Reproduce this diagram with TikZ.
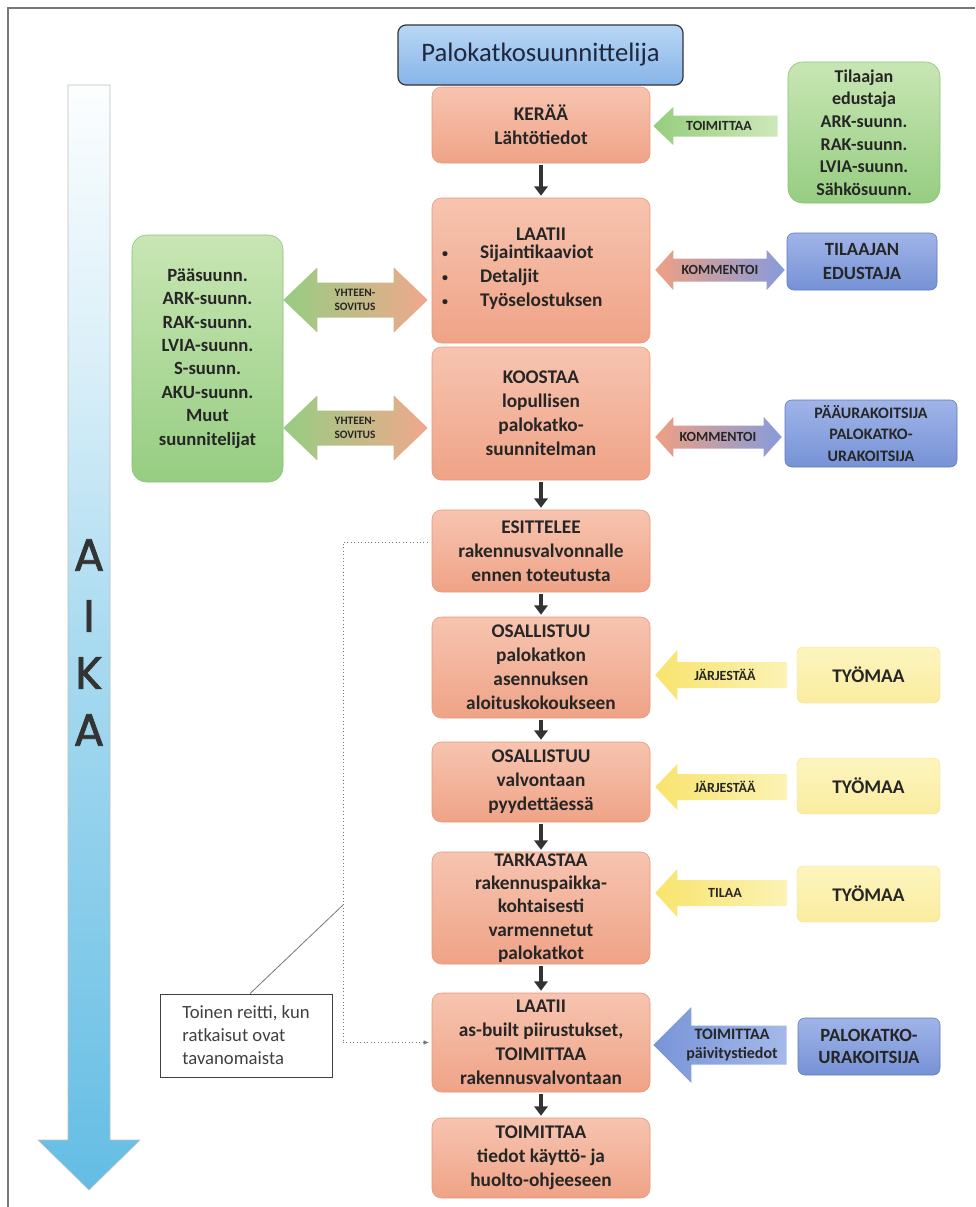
\documentclass[tikz,border=0pt]{standalone}
\usepackage{fontspec}
\setmainfont{Carlito}
\newfontfamily\aikafont[FakeBold=1.6]{Poppins}
\usetikzlibrary{calc,arrows.meta}

\definecolor{txt}{RGB}{38,38,38}
\definecolor{toptxt}{RGB}{30,40,62}
\definecolor{salT}{RGB}{247,196,176}
\definecolor{salB}{RGB}{239,163,135}
\definecolor{salD}{RGB}{232,150,120}
\definecolor{grnT}{RGB}{200,230,180}
\definecolor{grnB}{RGB}{150,205,130}
\definecolor{grnD}{RGB}{135,192,115}
\definecolor{bluT}{RGB}{160,180,232}
\definecolor{bluB}{RGB}{118,146,214}
\definecolor{bluD}{RGB}{95,120,190}
\definecolor{topT}{RGB}{185,215,245}
\definecolor{topB}{RGB}{135,180,232}
\definecolor{topD}{RGB}{50,50,60}
\definecolor{yelT}{RGB}{253,245,190}
\definecolor{yelB}{RGB}{250,236,160}
\definecolor{yelD}{RGB}{240,225,140}
\definecolor{yelArL}{RGB}{248,228,110}
\definecolor{yelArR}{RGB}{252,242,180}
\definecolor{grnArL}{RGB}{150,205,125}
\definecolor{grnArR}{RGB}{205,232,185}
\definecolor{bluArL}{RGB}{120,148,215}
\definecolor{bluArR}{RGB}{165,185,234}
\definecolor{komL}{RGB}{238,160,130}
\definecolor{komR}{RGB}{135,155,220}
\definecolor{yhtL}{RGB}{150,205,130}
\definecolor{yhtR}{RGB}{240,168,140}
\definecolor{aikablue}{RGB}{100,189,228}
\definecolor{framegray}{RGB}{120,120,120}
\definecolor{dotgray}{RGB}{120,120,120}

\pgfdeclareverticalshading{aikashade}{100bp}{color(0bp)=(aikablue); color(25bp)=(aikablue); color(50bp)=(aikablue!55!white); color(62bp)=(aikablue!25!white); color(76bp)=(white); color(100bp)=(white)}

% single block arrow pointing left: #1 left node, #2 right node, #3 y(px), #4 head length, #5 head half height, #6 shaft half height, #7 left gap, #8 right gap, #9 style
\newcommand\blkL[9]{%
  \path[#9] let \p1=(#1.east), \p2=(#2.west), \p3=(0,#3) in
   (\x1+#7*0.75pt,\y3)
   -- (\x1+#7*0.75pt+#4*0.75pt,\y3+#5*0.75pt)
   -- (\x1+#7*0.75pt+#4*0.75pt,\y3+#6*0.75pt)
   -- (\x2-#8*0.75pt,\y3+#6*0.75pt)
   -- (\x2-#8*0.75pt,\y3-#6*0.75pt)
   -- (\x1+#7*0.75pt+#4*0.75pt,\y3-#6*0.75pt)
   -- (\x1+#7*0.75pt+#4*0.75pt,\y3-#5*0.75pt)
   -- cycle;}
% double block arrow
\newcommand\blkD[9]{%
  \path[#9] let \p1=(#1.east), \p2=(#2.west), \p3=(0,#3) in
   (\x1+#7*0.75pt,\y3)
   -- (\x1+#7*0.75pt+#4*0.75pt,\y3+#5*0.75pt)
   -- (\x1+#7*0.75pt+#4*0.75pt,\y3+#6*0.75pt)
   -- (\x2-#8*0.75pt-#4*0.75pt,\y3+#6*0.75pt)
   -- (\x2-#8*0.75pt-#4*0.75pt,\y3+#5*0.75pt)
   -- (\x2-#8*0.75pt,\y3)
   -- (\x2-#8*0.75pt-#4*0.75pt,\y3-#5*0.75pt)
   -- (\x2-#8*0.75pt-#4*0.75pt,\y3-#6*0.75pt)
   -- (\x1+#7*0.75pt+#4*0.75pt,\y3-#6*0.75pt)
   -- (\x1+#7*0.75pt+#4*0.75pt,\y3-#5*0.75pt)
   -- cycle;}

\newcommand\smbul{{\fontsize{9}{9}\selectfont\raisebox{0.15ex}{•}}}

\tikzset{
  mainbox/.style={rectangle, rounded corners=7pt, top color=salT, bottom color=salB,
    draw=salD, line width=0.4pt, minimum width=163.5pt, inner sep=0pt, align=center,
    text=txt, font=\fontsize{14.5}{18}\selectfont\bfseries},
  topbox/.style={rectangle, rounded corners=6pt, top color=topT, bottom color=topB,
    draw=topD, line width=0.9pt, inner sep=0pt, align=center, text=toptxt,
    font=\fontsize{20}{24}\selectfont},
  grnbox/.style={rectangle, rounded corners=11pt, top color=grnT, bottom color=grnB,
    draw=grnD, line width=0.4pt, inner sep=0pt, align=center, text=txt,
    font=\fontsize{14}{17.6}\selectfont\bfseries},
  blubox/.style={rectangle, rounded corners=5pt, top color=bluT, bottom color=bluB,
    draw=bluD, line width=0.4pt, inner sep=0pt, align=center, text=txt,
    font=\fontsize{14}{18}\selectfont\bfseries},
  yelbox/.style={rectangle, rounded corners=5pt, top color=yelT, bottom color=yelB,
    draw=yelD, line width=0.3pt, inner sep=0pt, align=center, text=txt,
    font=\fontsize{14.5}{18}\selectfont\bfseries},
  notebox/.style={rectangle, draw=black!75, line width=0.6pt, inner sep=0pt,
    minimum width=129pt, minimum height=62.25pt, align=left, text=black!75,
    font=\fontsize{14}{17.3}\selectfont},
  arlabel/.style={inner sep=0pt, align=center, text=txt,
    font=\fontsize{10.5}{12}\selectfont\bfseries},
  grnarrow/.style={left color=grnArL, right color=grnArR},
  yelarrow/.style={left color=yelArL, right color=yelArR},
  bluarrow/.style={left color=bluArL, right color=bluArR},
  komarrow/.style={left color=komL, right color=komR},
  yhtarrow/.style={left color=yhtL, right color=yhtR},
  downarr/.style={draw=black!80, line width=2.4pt,
    -{Triangle[width=10pt,length=7pt]}, shorten <=1pt, shorten >=1.5pt},
  dotline/.style={draw=dotgray, line width=0.6pt, dotted},
  leader/.style={draw=dotgray, line width=0.6pt},
  framel/.style={draw=framegray, line width=1.4pt},
  aikaletter/.style={inner sep=0pt, text=black!80, font=\aikafont\fontsize{34}{34}\selectfont}
}

\begin{document}
\begin{tikzpicture}[x=0.75pt,y=-0.75pt]
\useasboundingbox (0,0) rectangle (975,1207);
\fill[white] (0,0) rectangle (975,1207);

% frame
\draw[framel] (8,1207) -- (8,8) -- (975,8);

% time arrow
\path[shading=aikashade, draw=black!25, line width=0.4pt]
  (68,85) -- (110,85) -- (110,1140) -- (140,1140) -- (89,1190) -- (38,1140) -- (68,1140) -- cycle;
\node[aikaletter] (aA1) at (89,555) {A};
\node[aikaletter] (aI)  at (89,616) {I};
\node[aikaletter] (aK)  at (89,673) {K};
\node[aikaletter] (aA2) at (89,730) {A};

% central column
\node[topbox, minimum width=213.75pt, minimum height=45pt] (top) at (540.5,55) {Palokatkosuunnittelija};
\node[mainbox, minimum height=57pt] (b1) at (541,125) {KERÄÄ\\Lähtötiedot};
\node[mainbox, minimum height=108.75pt] (b2) at (541,270.5) {LAATII\\\hspace*{-28pt}\begin{tabular}{@{}l@{\hspace{24pt}}l@{}}\smbul&Sijaintikaaviot\\\smbul&Detaljit\\\smbul&Työselostuksen\end{tabular}};
\node[mainbox, minimum height=99.75pt] (b3) at (541,413.5) {KOOSTAA\\lopullisen\\palokatko-\\suunnitelman};
\node[mainbox, minimum height=61.5pt] (b4) at (541,551) {ESITTELEE\\rakennusvalvonnalle\\ennen toteutusta};
\node[mainbox, minimum height=75.75pt] (b5) at (541,667.5) {OSALLISTUU\\palokatkon\\asennuksen\\aloituskokoukseen};
\node[mainbox, minimum height=60pt] (b6) at (541,782) {OSALLISTUU\\valvontaan\\pyydettäessä};
\node[mainbox, minimum height=84pt, font=\fontsize{14.5}{17.5}\selectfont\bfseries] (b7) at (541,908) {TARKASTAA\\rakennuspaikka-\\kohtaisesti\\varmennetut\\palokatkot};
\node[mainbox, minimum height=74.25pt] (b8) at (541,1042.5) {LAATII\\as-built piirustukset,\\TOIMITTAA\\rakennusvalvontaan};
\node[mainbox, minimum height=60pt] (b9) at (541,1158) {TOIMITTAA\\tiedot käyttö- ja\\huolto-ohjeeseen};

\foreach \a/\b in {b1/b2,b3/b4,b4/b5,b5/b6,b6/b7,b7/b8,b8/b9}
  \draw[downarr] (\a) -- (\b);

% right column
\node[grnbox, minimum width=114pt, minimum height=105.75pt, font=\fontsize{13.5}{16.9}\selectfont\bfseries] (g1) at (864,132.5) {Tilaajan\\edustaja\\ARK-suunn.\\RAK-suunn.\\LVIA-suunn.\\Sähkösuunn.};
\node[blubox, minimum width=112.5pt, minimum height=42.75pt] (tE) at (862,261.5) {TILAAJAN\\EDUSTAJA};
\node[blubox, minimum width=129pt, minimum height=50.25pt, font=\fontsize{12}{16}\selectfont\bfseries] (pU) at (871,433.5) {PÄÄURAKOITSIJA\\PALOKATKO-\\URAKOITSIJA};
\node[yelbox, minimum width=107.25pt, minimum height=42pt] (y1) at (868.5,675) {TYÖMAA};
\node[yelbox, minimum width=107.25pt, minimum height=42pt] (y2) at (868.5,786) {TYÖMAA};
\node[yelbox, minimum width=107.25pt, minimum height=42pt] (y3) at (868.5,894) {TYÖMAA};
\node[blubox, minimum width=106.5pt, minimum height=42.75pt, font=\fontsize{14}{16}\selectfont\bfseries] (pk) at (869,1046.5) {PALOKATKO-\\URAKOITSIJA};

% left column
\node[grnbox, minimum width=113.25pt, minimum height=185.25pt] (gL) at (207.5,358.5) {Pääsuunn.\\ARK-suunn.\\RAK-suunn.\\LVIA-suunn.\\S-suunn.\\AKU-suunn.\\Muut\\suunnitelijat};

% block arrows
\blkL{b1}{g1}{126}{20}{19}{10.5}{3}{10}{grnarrow}
\blkD{b2}{tE}{270}{18}{20}{11.5}{5}{2}{komarrow}
\blkD{b3}{pU}{437}{18}{20}{11.5}{5}{3}{komarrow}
\blkD{gL}{b2}{300}{34}{32.5}{17.5}{0}{4}{yhtarrow}
\blkD{gL}{b3}{428}{34}{32.5}{17.5}{0}{4}{yhtarrow}
\blkL{b5}{y1}{675}{22}{25}{13}{5}{10}{yelarrow}
\blkL{b6}{y2}{787}{22}{23}{13}{5}{10}{yelarrow}
\blkL{b7}{y3}{893}{22}{24}{13}{5}{10}{yelarrow}
\blkL{b8}{pk}{1045}{38}{38}{19.5}{3}{11}{bluarrow}

% arrow labels
\node[arlabel] (l1) at (719,126) {TOIMITTAA};
\node[arlabel] (l2) at (720,270) {KOMMENTOI};
\node[arlabel] (l3) at (718,437) {KOMMENTOI};
\node[arlabel, font=\fontsize{8.5}{10.5}\selectfont\bfseries] (l4) at (355,300) {YHTEEN-\\SOVITUS};
\node[arlabel, font=\fontsize{8.5}{10.5}\selectfont\bfseries] (l5) at (355,428) {YHTEEN-\\SOVITUS};
\node[arlabel] (l6) at (725,675) {JÄRJESTÄÄ};
\node[arlabel] (l7) at (725,787) {JÄRJESTÄÄ};
\node[arlabel] (l8) at (725,893) {TILAA};
\node[arlabel, font=\fontsize{12}{14.5}\selectfont\bfseries] (l9) at (732,1045) {TOIMITTAA\\päivitystiedot};

% alternative route
\node[notebox] (tn) at (246,1035.5) {Toinen reitti, kun\\ratkaisut ovat\\tavanomaista};
\coordinate (dA) at (343,542);
\coordinate (lead) at (343,905);
\draw[dotline, shorten <=3pt] (b4.west |- dA) -- (dA) -- (dA |- b8.west);
\draw[dotline, -{Latex[length=4pt,width=3.5pt]}, shorten >=2pt] (dA |- b8.west) -- (b8.west);
\draw[leader] ([xshift=3pt]tn.north) -- (lead);
\end{tikzpicture}
\end{document}
